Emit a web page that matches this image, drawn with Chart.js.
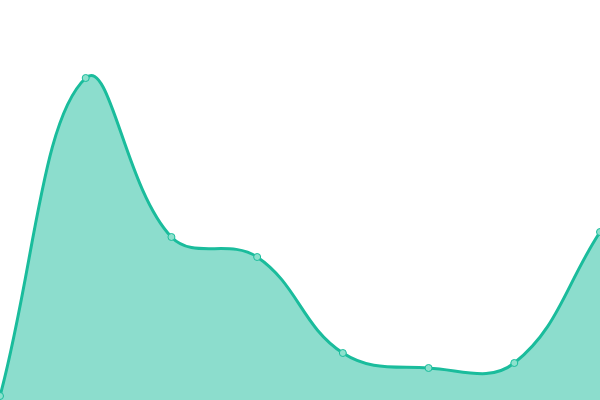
<!DOCTYPE html>
<html>
<head>
<meta charset="utf-8">
<script src="https://cdn.jsdelivr.net/npm/chart.js@4"></script>
<style>
html,body{margin:0;padding:0;background:#fff;}
#wrap{width:600px;height:400px;}
</style>
</head>
<body>
<div id="wrap"><canvas id="c"></canvas></div>
<script>
const labels = ["1", "2", "3", "4", "5", "6", "7", "8"];
const values = [1, 80.5, 40.75, 35.75, 11.75, 8, 9.25, 42];

new Chart(document.getElementById('c'), {
  type: 'line',
  data: {
    labels: labels,
    datasets: [{
      data: values,
      borderColor: '#1abc9c',
      backgroundColor: 'rgba(26,188,156,0.5)',
      borderWidth: 3,
      fill: 'origin',
      tension: 0.4,
      pointRadius: 3.5,
      pointBorderWidth: 1,
      pointBackgroundColor: 'rgba(140,225,205,1)',
      pointBorderColor: '#1abc9c'
    }]
  },
  options: {
    responsive: true,
    maintainAspectRatio: false,
    animation: false,
    layout: { padding: 0, autoPadding: false },
    plugins: { legend: { display: false }, tooltip: { enabled: false } },
    scales: {
      x: { display: false, offset: false },
      y: { display: false, min: 0, max: 100 }
    }
  }
});
</script>
</body>
</html>
